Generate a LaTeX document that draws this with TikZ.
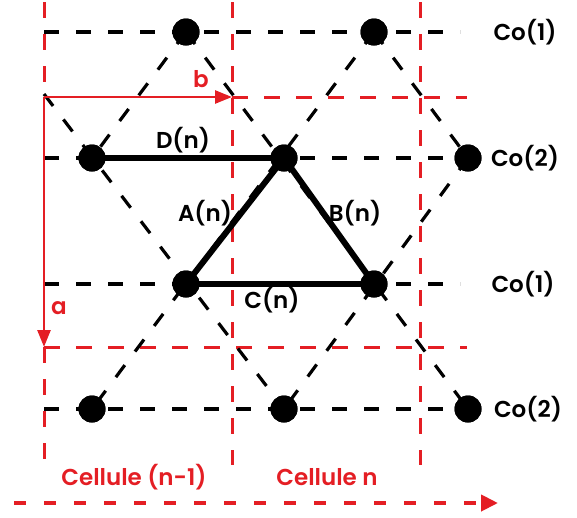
\documentclass[tikz,border=0pt]{standalone}
\usepackage{fontspec}
\setmainfont{Poppins}[BoldFont={Poppins SemiBold}]
\usetikzlibrary{arrows.meta}
\definecolor{myred}{RGB}{228,30,36}
\tikzset{
  atom/.style={circle,fill=black,inner sep=0pt,minimum size=27pt},
  bdash/.style={black,line width=3.2pt,dash pattern=on 15pt off 17pt},
  rdash/.style={myred,line width=3pt,dash pattern=on 16pt off 16pt},
  bond/.style={black,line width=6pt},
  lbl/.style={font=\fontsize{23}{26}\selectfont\bfseries},
  rlbl/.style={font=\fontsize{23}{26}\selectfont\bfseries,text=myred},
  rarrow/.style={myred,line width=2.6pt,-{Triangle[length=17pt,width=13pt]}},
}
\begin{document}
\begin{tikzpicture}[x=1pt,y=-1pt]
\useasboundingbox (0,0) rectangle (577,517);
% atoms positions
\node[atom] (t1) at (186,32) {};
\node[atom] (t2) at (374,32) {};
\node[atom] (m1) at (92,158) {};
\node[atom] (m2) at (284,158) {};
\node[atom] (m3) at (468,158) {};
\node[atom] (l1) at (186,284) {};
\node[atom] (l2) at (374,284) {};
\node[atom] (b1) at (92,409) {};
\node[atom] (b2) at (284,409) {};
\node[atom] (b3) at (468,409) {};
% border coordinates
\coordinate (o) at (44,97);
\coordinate (ab) at (44,347);
\coordinate (bb) at (232,97);
\coordinate (v1t) at (44,2);
\coordinate (v1b) at (44,465);
\coordinate (v2t) at (232,2);
\coordinate (v2b) at (232,465);
\coordinate (v3t) at (420,2);
\coordinate (v3b) at (420,465);
\coordinate (h1e) at (467,97);
\coordinate (h2s) at (44,347);
\coordinate (h2e) at (467,347);
\coordinate (bs) at (14,503);
\coordinate (be) at (498,503);
\coordinate (d0) at (44,94);
\coordinate (r1s) at (44,32);
\coordinate (r1e) at (460,32);
\coordinate (r2s) at (44,158);
\coordinate (r3s) at (44,284);
\coordinate (r3e) at (460,284);
\coordinate (r4s) at (44,409);
% red grid
\draw[rdash] (v1t) -- (o);
\draw[rdash] (ab) -- (v1b);
\draw[rdash] (v2t) -- (v2b);
\draw[rdash] (v3t) -- (v3b);
\draw[rdash] (bb) -- (h1e);
\draw[rdash] (h2s) -- (h2e);
% black dashed lattice
\draw[bdash] (r1s) -- (r1e);
\draw[bdash] (r2s) -- (m3.center);
\draw[bdash] (r3s) -- (r3e);
\draw[bdash] (r4s) -- (b3.center);
\draw[bdash] (d0) -- (b2.center);
\draw[bdash] (t1.center) -- (b3.center);
\draw[bdash] (t1.center) -- (m1.center);
\draw[bdash] (t2.center) -- (b1.center);
\draw[bdash] (t2.center) -- (m3.center);
\draw[bdash] (m3.center) -- (b2.center);
% bonds
\draw[bond] (m1.center) -- (m2.center);
\draw[bond] (m2.center) -- (l1.center);
\draw[bond] (m2.center) -- (l2.center);
\draw[bond] (l1.center) -- (l2.center);
% redraw atoms on top
\foreach \n in {t1,t2,m1,m2,m3,l1,l2,b1,b2,b3}{\fill (\n) circle (13.5pt);}
% red arrows
\draw[rarrow] (o) -- (bb);
\draw[rarrow] (o) -- (ab);
\draw[myred,line width=4pt,dash pattern=on 12pt off 18pt,-{Triangle[length=17pt,width=16pt]}] (bs) -- (be);
% labels
\node[lbl] (lD) at (183,140) {D(n)};
\node[lbl] (lA) at (205,213) {A(n)};
\node[lbl] (lB) at (355,213) {B(n)};
\node[lbl] (lC) at (272,300) {C(n)};
\node[lbl] (c1) at (525,32) {Co(1)};
\node[lbl] (c2) at (525,158) {Co(2)};
\node[lbl] (c3) at (523,284) {Co(1)};
\node[lbl] (c4) at (528,409) {Co(2)};
\node[rlbl] (la) at (59,308) {a};
\node[rlbl] (lb) at (201,79) {b};
\node[rlbl] (cl1) at (134,477) {Cellule (n-1)};
\node[rlbl] (cl2) at (327,477) {Cellule n};
\end{tikzpicture}
\end{document}
